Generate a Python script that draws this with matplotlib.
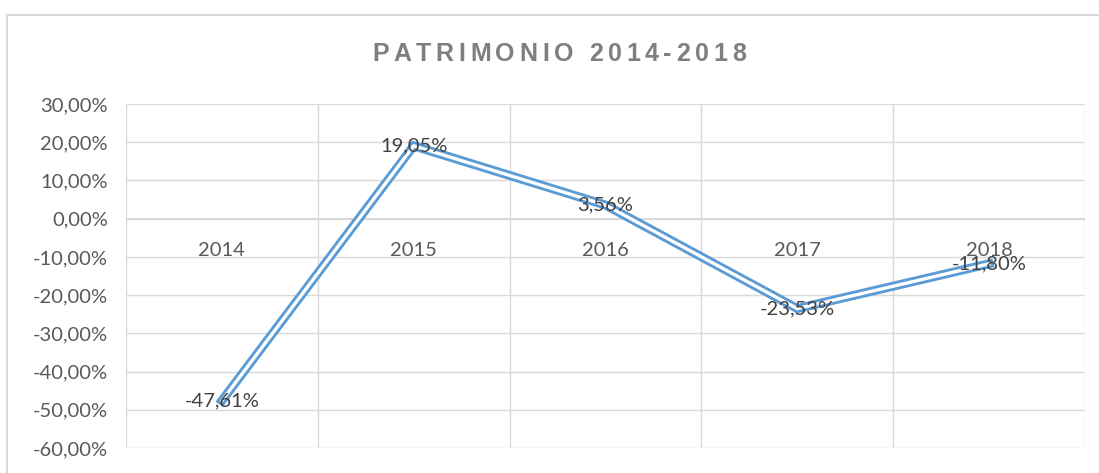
import matplotlib.pyplot as plt
from matplotlib.patches import Rectangle

years = ["2014", "2015", "2016", "2017", "2018"]
values = [-47.61, 19.05, 3.56, -23.53, -11.80]
y_ticks = [30, 20, 10, 0, -10, -20, -30, -40, -50, -60]
title = "PATRIMONIO 2014-2018"

plt.rcParams["font.family"] = ["Lato", "DejaVu Sans"]
W, H = 1099, 473
fig = plt.figure(figsize=(W / 100, H / 100), dpi=100)

# outer chart frame
fig.patches.append(Rectangle((7 / W, -0.1), 1.2, 1 - 15 / H + 0.1, transform=fig.transFigure,
                             fill=False, edgecolor="#d9d9d9", linewidth=1.5))

ax = fig.add_axes([126 / W, 1 - 448 / H, (1085 - 126) / W, (448 - 104) / H])
x = list(range(len(years)))

ax.set_xlim(-0.5, len(years) - 0.5)
ax.set_ylim(-60, 30)
ax.set_yticks(y_ticks)
ax.set_yticklabels([f"{v:.2f}%".replace(".", ",") for v in y_ticks], fontsize=14.5, color="#595959")
ax.tick_params(axis="y", length=0, pad=13)

ax.set_xticks([])
ax.set_xticks([i - 0.5 for i in range(len(years) + 1)], minor=True)
ax.tick_params(axis="x", which="both", length=0)
ax.grid(True, which="minor", axis="x", color="#d9d9d9", linewidth=1)
ax.grid(True, which="major", axis="y", color="#d9d9d9", linewidth=1)
for s in ax.spines.values():
    s.set_visible(False)
ax.axhline(0, color="#d0d0d0", linewidth=1.2, zorder=1)

# category labels sit just under the zero line
for i, yr in enumerate(years):
    ax.annotate(yr, (i, 0), xytext=(0, -27), textcoords="offset points", ha="center",
                va="baseline", fontsize=14.5, color="#595959")

# double line (Excel style)
ax.plot(x, values, color="#5b9bd5", linewidth=6.5, solid_joinstyle="miter", zorder=3)
ax.plot(x, values, color="white", linewidth=2.4, solid_joinstyle="miter", zorder=4)

for i, v in enumerate(values):
    ax.text(i, v, f"{v:.2f}%".replace(".", ","), ha="center", va="center",
            fontsize=14.5, color="#404040", zorder=5)

# letter-spaced title, drawn char by char to fill the reference width
renderer = fig.canvas.get_renderer()
chars = []
for ch in title:
    t = fig.text(0, 0, ch, fontsize=18, fontweight="bold", color="#7f7f7f", va="baseline",
                 family=["Liberation Sans", "DejaVu Sans"])
    chars.append((t, t.get_window_extent(renderer).width if ch != " " else 7))
left, right = 372, 746
spacing = (right - left - sum(w for _, w in chars)) / (len(chars) - 1)
xpos = left
for t, w in chars:
    t.set_position((xpos / W, 1 - 61 / H))
    xpos += w + spacing

fig.savefig("out.png", dpi=100)
